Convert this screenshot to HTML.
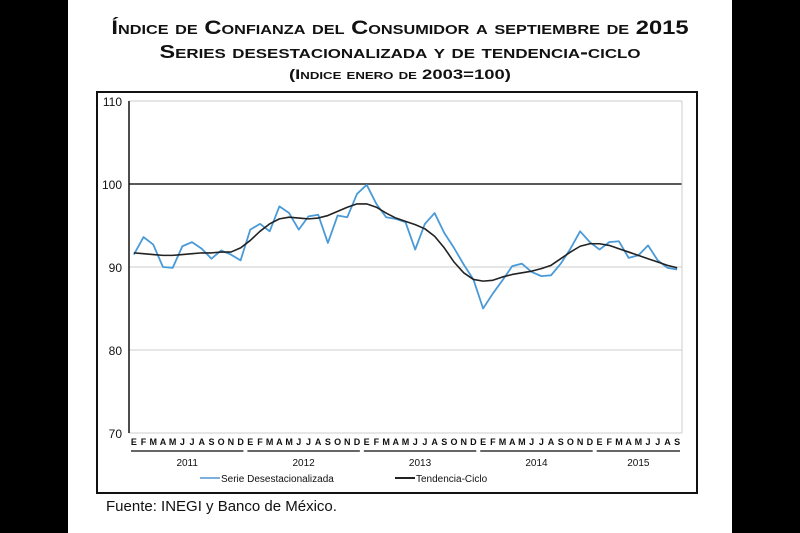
<!DOCTYPE html>
<html><head><meta charset="utf-8"><style>
body{margin:0;width:800px;height:533px;background:#fff;position:relative;overflow:hidden;font-family:"Liberation Sans",sans-serif}
.bar{position:absolute;top:0;height:533px;background:#000}
.t{position:absolute;left:68px;width:664px;text-align:center;font-weight:bold;font-variant:small-caps;color:#111;white-space:nowrap}
</style></head><body>
<div class="bar" style="left:0;width:68px"></div>
<div class="bar" style="left:732px;width:68px"></div>
<div class="t" style="top:18px;font-size:19px;transform:scaleX(1.25)">Índice de Confianza del Consumidor a septiembre de 2015</div>
<div class="t" style="top:42px;font-size:18px;transform:scaleX(1.3)">Series desestacionalizada y de tendencia-ciclo</div>
<div class="t" style="top:66px;font-size:14px;transform:scaleX(1.32)">(Indice enero de 2003=100)</div>
<svg id="c" width="800" height="533" style="position:absolute;left:0;top:0"></svg>
<div style="position:absolute;left:106px;top:498px;font-size:15px;color:#111">Fuente: INEGI y Banco de México.</div>
<script>
const years=["2011","2012","2013","2014","2015"];
const months=["E","F","M","A","M","J","J","A","S","O","N","D"];
const yTicks=[70,80,90,100,110];
const serieDesest=[91.5,93.6,92.7,90.0,89.9,92.5,93.0,92.2,91.0,92.0,91.5,90.8,
94.5,95.2,94.3,97.3,96.5,94.5,96.1,96.3,92.9,96.2,96.0,98.8,
99.9,97.6,96.0,95.8,95.4,92.1,95.2,96.5,94.1,92.3,90.3,88.5,
85.0,86.8,88.4,90.1,90.4,89.4,88.9,89.0,90.4,92.2,94.3,93.0,
92.1,93.0,93.1,91.1,91.4,92.6,90.8,89.9,89.7];
const tendencia=[91.7,91.6,91.5,91.4,91.4,91.5,91.6,91.7,91.7,91.8,91.8,92.3,
93.2,94.3,95.2,95.8,96.0,95.9,95.8,95.9,96.2,96.7,97.2,97.6,
97.6,97.2,96.5,95.9,95.5,95.1,94.6,93.7,92.3,90.6,89.3,88.5,
88.3,88.4,88.8,89.1,89.3,89.5,89.8,90.2,91.0,91.8,92.5,92.8,
92.8,92.6,92.2,91.8,91.4,91.0,90.6,90.2,89.9];
const svg=document.getElementById('c');
const NS='http://www.w3.org/2000/svg';
const X0=129,X1=682,Y0=433,Y1=101,N=57,slot=(X1-X0)/N;
const xs=i=>X0+(i+0.5)*slot;
const ys=v=>Y0-(v-70)/(110-70)*(Y0-Y1);
function mk(tag,attrs,parent){const e=document.createElementNS(NS,tag);for(const k in attrs)e.setAttribute(k,attrs[k]);(parent||svg).appendChild(e);return e;}
let e=mk('rect',{x:97,y:92,width:600,height:401,fill:'none',stroke:'#111','stroke-width':2});


yTicks.forEach(t=>{
 const g=mk('line',{x1:X0,x2:X1,y1:ys(t),y2:ys(t),stroke:t==100?'#222':'#ccc','stroke-width':t==100?1.5:1});
 
 
 const l=mk('text',{x:X0-7,y:ys(t)+5,'text-anchor':'end','font-size':12,fill:'#111'});l.textContent=t;
 
 
});
e=mk('line',{x1:X1,x2:X1,y1:Y1,y2:Y0,stroke:'#ccc'});


e=mk('line',{x1:X0,x2:X0,y1:Y1,y2:Y0,stroke:'#111','stroke-width':1.5});


for(let i=0;i<N;i++){
 const m=mk('text',{x:xs(i),y:445,'text-anchor':'middle','font-size':9,'font-weight':'bold',fill:'#111'});m.textContent=months[i%12];
 
 
}
years.forEach((yr,k)=>{
 const a=X0+k*12*slot+2,b=Math.min(X0+(k+1)*12*slot,X1)-2;
 const u=mk('line',{x1:a,x2:b,y1:451,y2:451,stroke:'#666','stroke-width':2});
 
 
 const t=mk('text',{x:(a+b)/2,y:466,'text-anchor':'middle','font-size':10,fill:'#111'});t.textContent=yr;
 
 
});
function line(d,c,w,name){const p=mk('polyline',{points:d.map((v,i)=>xs(i)+','+ys(v)).join(' '),fill:'none',stroke:c,'stroke-width':w,'stroke-linejoin':'round'});
 
 }
line(serieDesest,'#4a9ad8',1.8,'series-desestacionalizada');
line(tendencia,'#222',1.6,'series-tendencia-ciclo');
function leg(x,c,txt,name){const g=mk('g',{});
 
 
 mk('line',{x1:x,x2:x+20,y1:478,y2:478,stroke:c,'stroke-width':2},g);
 const t=mk('text',{x:x+21,y:482,'font-size':10,fill:'#111'},g);t.textContent=txt;}
leg(200,'#7fb0dd','Serie Desestacionalizada','legend-desestacionalizada');
leg(395,'#222','Tendencia-Ciclo','legend-tendencia');
</script>
</body></html>
